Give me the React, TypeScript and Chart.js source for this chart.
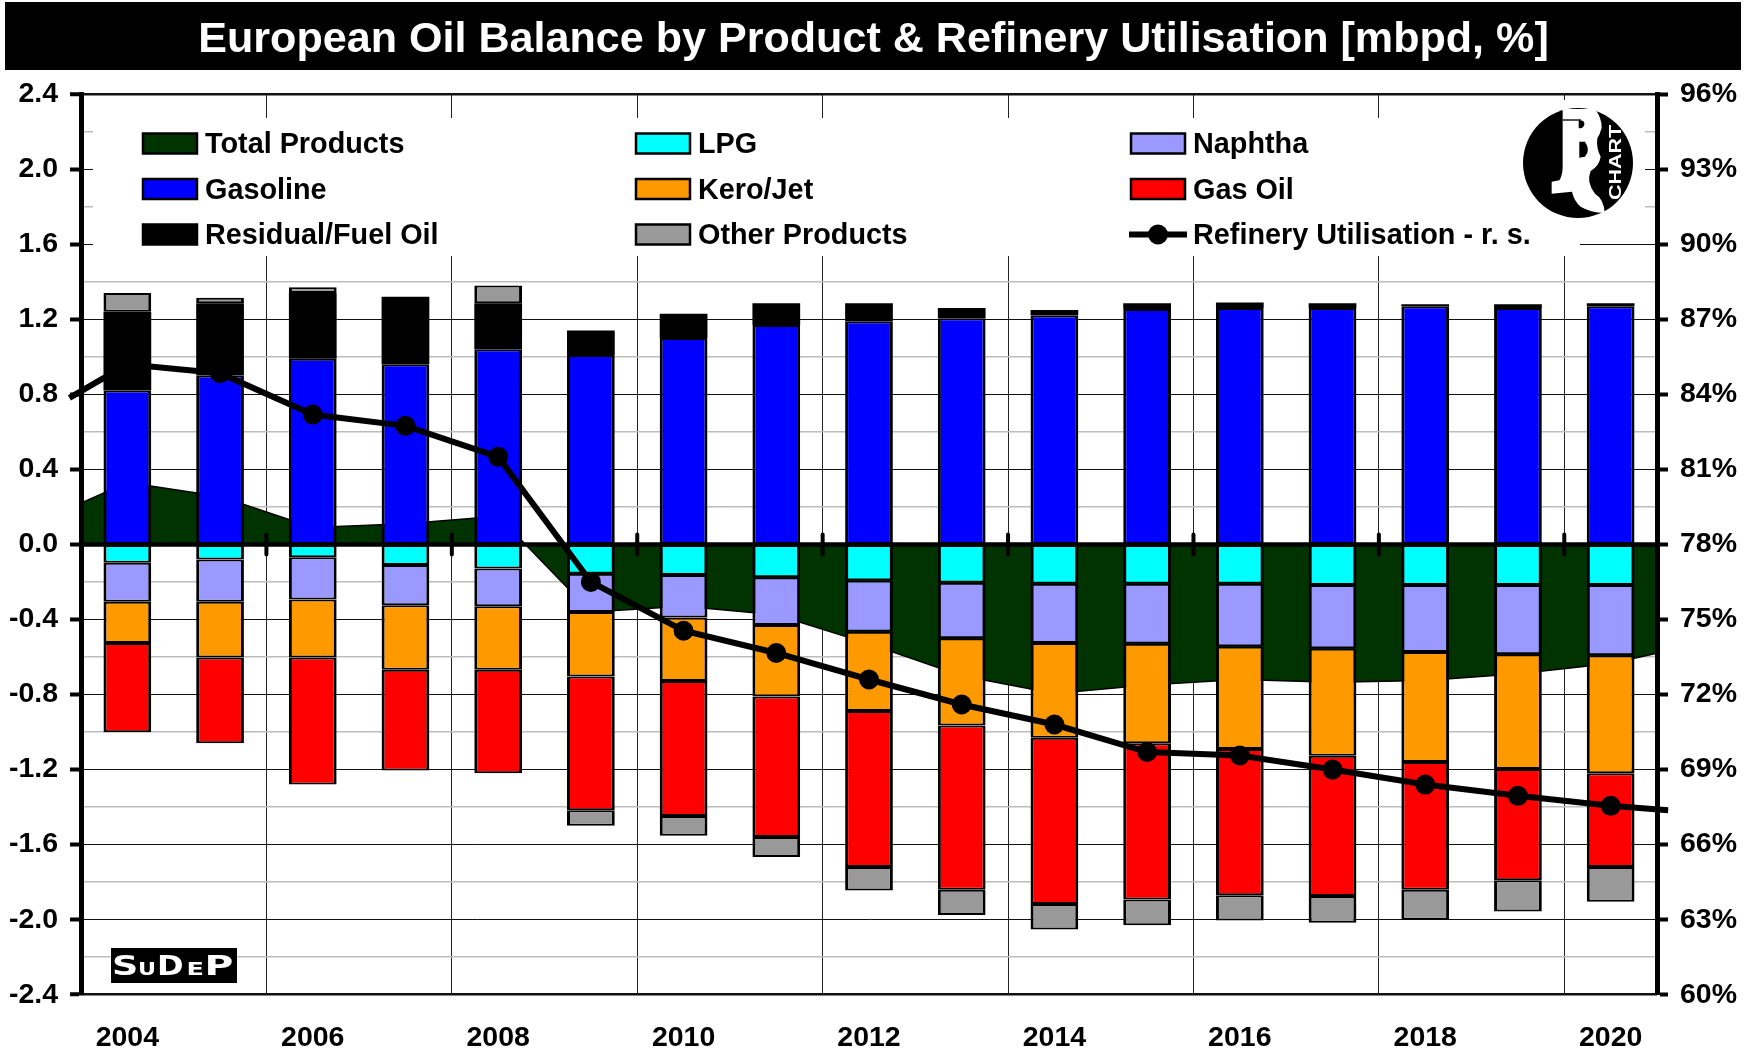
import React, { useEffect, useRef } from "react";
import { Chart, registerables } from "chart.js";

Chart.register(...registerables);

const years = ["2004","2005","2006","2007","2008","2009","2010","2011","2012","2013","2014","2015","2016","2017","2018","2019","2020"];
const gasoline = [0.82,0.90,0.99,0.96,1.04,1.01,1.10,1.17,1.19,1.205,1.22,1.255,1.26,1.26,1.27,1.26,1.27];
const fuelOil = [0.42,0.385,0.35,0.36,0.245,0.13,0.13,0.115,0.095,0.055,0.03,0.03,0.03,0.025,0.01,0.02,0.015];
const lpg = [-0.098,-0.08,-0.068,-0.11,-0.128,-0.157,-0.163,-0.175,-0.193,-0.205,-0.21,-0.21,-0.21,-0.217,-0.217,-0.217,-0.217];
const naphtha = [-0.208,-0.226,-0.226,-0.214,-0.202,-0.203,-0.227,-0.255,-0.273,-0.295,-0.316,-0.32,-0.334,-0.338,-0.356,-0.368,-0.374];
const keroJet = [-0.22,-0.297,-0.309,-0.344,-0.338,-0.344,-0.338,-0.38,-0.422,-0.465,-0.504,-0.53,-0.546,-0.571,-0.587,-0.612,-0.629];
const gasOil = [-0.475,-0.457,-0.677,-0.537,-0.552,-0.713,-0.719,-0.75,-0.832,-0.875,-0.886,-0.832,-0.78,-0.748,-0.68,-0.593,-0.5];
const otherProducts = [0.10,0.03,0.03,0,0.095,-0.083,-0.106,-0.106,-0.125,-0.135,-0.136,-0.138,-0.135,-0.143,-0.16,-0.167,-0.184];
const totalX = [2003.5,2004,2005,2006,2007,2008,2009,2010,2011,2012,2013,2014,2015,2016,2017,2018,2019,2020,2020.5];
const totalProducts = [0.22,0.33,0.255,0.09,0.11,0.15,-0.36,-0.33,-0.375,-0.53,-0.70,-0.795,-0.75,-0.72,-0.735,-0.725,-0.69,-0.635,-0.58];
const refineryX = [2003.375,2004,2005,2006,2007,2008,2009,2010,2011,2012,2013,2014,2015,2016,2017,2018,2019,2020,2020.62];
const refinery = [83.86,85.2,84.84,83.19,82.74,81.5,76.5,74.55,73.66,72.6,71.6,70.8,69.7,69.56,69.0,68.4,67.95,67.55,67.37];

const titleText = "European Oil Balance by Product & Refinery Utilisation [mbpd, %]";
const legendOrder = ["Total Products","LPG","Naphtha","Gasoline","Kero/Jet","Gas Oil","Residual/Fuel Oil","Other Products","Refinery Utilisation - r. s."];

const FONT = "'Liberation Sans', Arial, sans-serif";

const pagePlugin = {
  id: "page",
  beforeDraw(chart: any) {
    const c = chart.ctx;
    c.save();
    c.fillStyle = "#fff";
    c.fillRect(0, 0, chart.width, chart.height);
    c.fillStyle = "#000";
    c.fillRect(5, 2, 1736, 68);
    c.restore();
  },
};

function drawLogo(c: any) {
  const cx = 1578, cy = 163, r = 55;
  c.fillStyle = "#000";
  c.beginPath();
  c.arc(cx, cy, r, 0, Math.PI * 2);
  c.fill();
  // white monogram, drawn in a local frame with the logo's own proportions
  c.save();
  c.translate(1500, 95);
  c.scale(1 / 3, 1 / 3);
  c.fillStyle = "#fff";
  c.beginPath();
  c.moveTo(188, 42);
  c.lineTo(285, 42);
  c.quadraticCurveTo(306, 70, 305, 98);
  c.quadraticCurveTo(300, 118, 292, 130);
  c.quadraticCurveTo(288, 160, 302, 185);
  c.quadraticCurveTo(298, 212, 272, 228);
  c.quadraticCurveTo(258, 262, 285, 296);
  c.quadraticCurveTo(312, 312, 314, 354);
  c.quadraticCurveTo(270, 352, 242, 335);
  c.quadraticCurveTo(222, 318, 216, 290);
  c.lineTo(155, 296);
  c.lineTo(155, 260);
  c.lineTo(178, 256);
  c.quadraticCurveTo(188, 240, 188, 215);
  c.closePath();
  c.fill();
  c.fillStyle = "#000";
  c.beginPath();
  c.moveTo(238, 140);
  c.lineTo(255, 140);
  c.quadraticCurveTo(272, 165, 255, 185);
  c.lineTo(238, 188);
  c.closePath();
  c.fill();
  c.fillRect(188, 73, 55, 4);
  c.beginPath();
  c.moveTo(236, 76);
  c.quadraticCurveTo(258, 76, 252, 92);
  c.quadraticCurveTo(244, 104, 236, 98);
  c.closePath();
  c.fill();
  c.restore();
  c.save();
  c.translate(1621, 162.5);
  c.rotate(-Math.PI / 2);
  c.scale(1.34, 1);
  c.fillStyle = "#fff";
  c.textAlign = "center";
  c.textBaseline = "alphabetic";
  c.font = `bold 16px ${FONT}`;
  c.fillText("CHART", 0, 0);
  c.restore();
}

function drawBadge(c: any) {
  c.fillStyle = "#000";
  c.fillRect(111, 948, 126, 35);
  c.fillStyle = "#fff";
  c.textAlign = "left";
  c.textBaseline = "alphabetic";
  const letters: [string, number, number, number][] = [
    ["S", 27.4, 113.3, 22.7], ["U", 17, 139.3, 15.7], ["D", 27.4, 159.3, 23.4], ["E", 17, 188, 15], ["P", 27.4, 207.3, 24.4],
  ];
  letters.forEach(([t, s, x, w]) => {
    c.font = `bold ${s}px 'DejaVu Sans', sans-serif`;
    const m = c.measureText(t);
    c.save();
    c.translate(x, 975);
    c.scale(w / (m.actualBoundingBoxRight + m.actualBoundingBoxLeft), 1);
    c.fillText(t, m.actualBoundingBoxLeft, 0);
    c.restore();
  });
}

const legendPlugin = {
  id: "sideLegend",
  beforeDatasetsDraw(chart: any) {
    const c = chart.ctx;
    c.save();
    c.fillStyle = "#fff";
    c.fillRect(93, 118, 1487, 138);
    c.fillRect(1516, 100, 129, 130);
    const colX = [143, 636, 1131];
    const rowY = [143.5, 189, 234.5];
    c.font = `bold 28.8px ${FONT}`;
    c.textBaseline = "middle";
    legendOrder.forEach((name, i) => {
      const ds = chart.data.datasets.find((d: any) => d.label === name);
      const x = colX[i % 3];
      const y = rowY[Math.floor(i / 3)];
      if (ds.pointRadius) {
        c.strokeStyle = "#000";
        c.lineWidth = 6;
        c.beginPath();
        c.moveTo(x - 2, y);
        c.lineTo(x + 56, y);
        c.stroke();
        c.fillStyle = "#000";
        c.beginPath();
        c.arc(x + 27, y, 10, 0, Math.PI * 2);
        c.fill();
      } else {
        c.fillStyle = ds.backgroundColor;
        c.strokeStyle = "#000";
        c.lineWidth = 2.5;
        c.fillRect(x, y - 10, 54, 20);
        c.strokeRect(x, y - 10, 54, 20);
      }
      c.fillStyle = "#000";
      c.fillText(name, x + 62, y + 2);
    });
    drawLogo(c);
    drawBadge(c);
    c.restore();
  },
};

const zeroAxisPlugin = {
  id: "zeroAxis",
  afterDatasetsDraw(chart: any) {
    const { ctx: c, chartArea: a, scales } = chart;
    const y0 = scales.y.getPixelForValue(0);
    c.save();
    c.strokeStyle = "#000";
    c.lineWidth = 4.5;
    c.beginPath();
    c.moveTo(a.left, y0);
    c.lineTo(a.right, y0);
    c.stroke();
    c.lineWidth = 4;
    c.lineCap = "round";
    for (let v = 2005.5; v < 2020; v += 2) {
      const x = scales.x2.getPixelForValue(v);
      c.beginPath();
      c.moveTo(x, y0 - 10);
      c.lineTo(x, y0 + 10);
      c.stroke();
    }
    c.restore();
  },
};

function barSet(label: string, data: number[], color: string, solid = false) {
  return {
    type: "bar",
    label,
    data,
    backgroundColor: color,
    borderColor: "#000",
    borderWidth: solid ? 0 : { top: 2, bottom: 2, left: 3, right: 3 },
    borderSkipped: false,
    inflateAmount: 0,
    grouped: false,
    categoryPercentage: 1,
    barPercentage: 0.515,
    xAxisID: "x",
    yAxisID: "y",
    stack: "balance",
    order: 1,
  };
}

const tickFont = { family: FONT, size: 28.5, weight: "bold" as const };

export default function App() {
  const ref = useRef<HTMLCanvasElement>(null);
  useEffect(() => {
    document.body.style.margin = "0";
    const chart = new Chart(ref.current as HTMLCanvasElement, {
      type: "bar",
      plugins: [pagePlugin, legendPlugin, zeroAxisPlugin],
      data: {
        labels: years,
        datasets: [
          {
            type: "line",
            label: "Refinery Utilisation - r. s.",
            data: refineryX.map((x, i) => ({ x, y: refinery[i] })),
            borderColor: "#000",
            backgroundColor: "#000",
            borderWidth: 6,
            tension: 0,
            pointRadius: (ctx: any) => (ctx.dataIndex === 0 || ctx.dataIndex === refineryX.length - 1 ? 0 : 10),
            pointBackgroundColor: "#000",
            pointBorderWidth: 0,
            xAxisID: "x2",
            yAxisID: "y2",
            clip: false,
            order: 0,
          },
          barSet("Gasoline", gasoline, "#0000FF"),
          barSet("Residual/Fuel Oil", fuelOil, "#000000", true),
          barSet("LPG", lpg, "#00FFFF"),
          barSet("Naphtha", naphtha, "#9999FF"),
          barSet("Kero/Jet", keroJet, "#FF9900"),
          barSet("Gas Oil", gasOil, "#FF0000"),
          barSet("Other Products", otherProducts, "#999999"),
          {
            type: "line",
            label: "Total Products",
            data: totalX.map((x, i) => ({ x, y: totalProducts[i] })),
            borderColor: "#000",
            borderWidth: 1.5,
            backgroundColor: "#003300",
            fill: "origin",
            tension: 0,
            pointRadius: 0,
            xAxisID: "x2",
            yAxisID: "y",
            order: 2,
          },
        ],
      } as any,
      options: {
        animation: false,
        responsive: false,
        layout: { padding: 0 },
        plugins: {
          legend: { display: false },
          tooltip: { enabled: false },
          title: {
            display: true,
            text: titleText,
            color: "#fff",
            font: { family: FONT, size: 43.1, weight: "bold", lineHeight: 1.2 },
            padding: { top: 14.5, bottom: 27.9 },
          },
        },
        scales: {
          x: {
            type: "category",
            stacked: true,
            offset: true,
            position: "bottom",
            afterFit: (s: any) => { s.height = 58.3; },
            border: { display: false },
            grid: {
              offset: true,
              drawTicks: false,
              color: (ctx: any) => (ctx.index > 0 && ctx.index % 2 === 0 && ctx.index < 17 ? "#222" : "rgba(0,0,0,0)"),
              lineWidth: 1,
            },
            ticks: {
              autoSkip: false,
              maxRotation: 0,
              color: "#000",
              font: tickFont,
              padding: 26,
              callback(this: any, v: any, i: number) { return i % 2 === 0 ? this.getLabelForValue(v) : ""; },
            },
          },
          x2: { type: "linear", display: false, offset: false, min: 2003.5, max: 2020.5, grid: { offset: false } },
          y: {
            type: "linear",
            stacked: true,
            min: -2.4,
            max: 2.4,
            position: "left",
            afterFit: (s: any) => { s.width = 81; },
            border: { display: true, color: "#000", width: 5, z: 1 },
            grid: {
              tickLength: 11,
              tickWidth: 4,
              tickColor: (ctx: any) => (Math.round(ctx.tick.value * 10) % 4 === 0 ? "#000" : "rgba(0,0,0,0)"),
              color: (ctx: any) => (Math.round(ctx.tick.value * 10) % 4 === 0 ? "#111" : "#bdbdbd"),
              lineWidth: (ctx: any) => (Math.abs(ctx.tick.value) > 2.39 ? 2.5 : Math.round(ctx.tick.value * 10) % 4 === 0 ? 1 : 1.5),
            },
            ticks: {
              stepSize: 0.2,
              autoSkip: false,
              padding: 12,
              color: "#000",
              font: tickFont,
              callback: (v: any) => (Math.round(v * 10) % 4 === 0 ? Number(v).toFixed(1) : ""),
            },
          },
          y2: {
            type: "linear",
            min: 60,
            max: 96,
            position: "right",
            afterFit: (s: any) => { s.width = 90; },
            border: { display: true, color: "#000", width: 5, z: 1 },
            grid: {
              drawOnChartArea: false,
              tickLength: 11,
              tickWidth: 4,
              tickColor: (ctx: any) => (ctx.tick.value % 3 === 0 ? "#000" : "rgba(0,0,0,0)"),
            },
            ticks: {
              stepSize: 1.5,
              autoSkip: false,
              padding: 12,
              color: "#000",
              font: tickFont,
              callback: (v: any) => (v % 3 === 0 ? `${v}%` : ""),
            },
          },
        },
      } as any,
    });
    return () => chart.destroy();
  }, []);
  return <canvas ref={ref} width={1747} height={1053} style={{ display: "block" }} />;
}
